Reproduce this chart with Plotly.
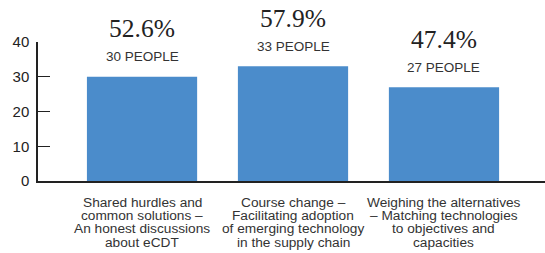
import plotly.graph_objects as go

categories = [
    "Shared hurdles and<br>common solutions –<br>An honest discussions<br>about eCDT",
    "Course change –<br>Facilitating adoption<br>of emerging technology<br>in the supply chain",
    "Weighing the alternatives<br>– Matching technologies<br>to objectives and<br>capacities",
]
people = [30, 33, 27]
percent_labels = ["52.6%", "57.9%", "47.4%"]
people_labels = ["30 PEOPLE", "33 PEOPLE", "27 PEOPLE"]
y_ticks = [0, 10, 20, 30, 40]

x = list(range(len(categories)))

fig = go.Figure()
fig.add_trace(go.Bar(x=x, y=people, marker=dict(color="#4b8ccb", line=dict(width=0)),
                     width=0.73, hoverinfo="skip"))

for xi, v, pl, pp in zip(x, people, percent_labels, people_labels):
    fig.add_annotation(x=xi, y=v, xref="x", yref="y", text=pp, showarrow=False,
                       yshift=20, font=dict(family="Liberation Sans, Arial", size=13.5, color="#333333"))
    fig.add_annotation(x=xi, y=v, xref="x", yref="y", text=pl, showarrow=False,
                       yshift=48, font=dict(family="Liberation Serif, Times New Roman", size=25.5, color="#222222"))

# category labels drawn line by line for tight leading
for xi, cat in zip(x, categories):
    for i, line in enumerate(cat.split("<br>")):
        fig.add_annotation(x=xi, y=0, xref="x", yref="paper", text=line, showarrow=False,
                           yanchor="middle", yshift=-21 - 13.4 * i,
                           font=dict(family="Liberation Sans, Arial", size=13.7, color="#333333"))

fig.update_layout(
    width=545, height=253,
    margin=dict(l=38, r=0, t=42, b=72),
    paper_bgcolor="white", plot_bgcolor="white",
    showlegend=False,
    xaxis=dict(range=[-0.689, 2.669], tickmode="array", tickvals=x, showticklabels=False,
               showline=True, linecolor="#222222", linewidth=1.5, ticks="", showgrid=False,
               zeroline=False),
    yaxis=dict(range=[0, 40], tickmode="array", tickvals=y_ticks, showline=True,
               linecolor="#222222", linewidth=1.5, ticks="inside", ticklen=12, tickcolor="#222222",
               tickwidth=1.2, showgrid=False, zeroline=False, ticklabelstandoff=4,
               tickfont=dict(family="Liberation Sans, Arial", size=15, color="#222222")),
)

fig.write_html("out.html", config={"displayModeBar": False},
               post_script="document.body.style.margin='0px';")
